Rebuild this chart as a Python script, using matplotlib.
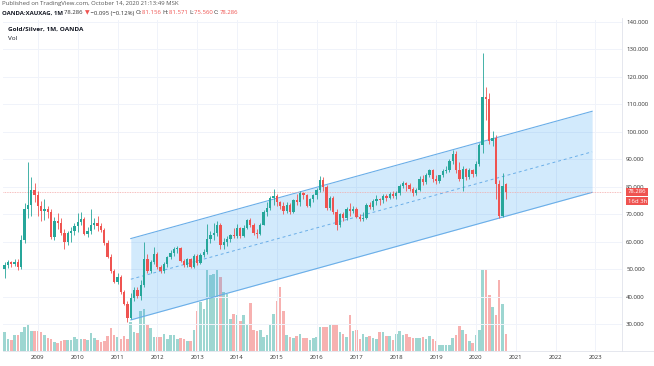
import matplotlib
matplotlib.use("Agg")
import matplotlib.pyplot as plt
import numpy as np

# ---------------- data (monthly Gold/Silver, OANDA, Mar 2008 .. Oct 2020) -------------
first_month = "2008-03"
years = [2009, 2010, 2011, 2012, 2013, 2014, 2015, 2016, 2017, 2018, 2019, 2020, 2021, 2022, 2023]

opens = [50.0, 51.6, 52.6, 52.0, 52.8, 51.0, 60.8, 72.0, 73.3, 78.7,
         77.0, 73.1, 71.3, 71.8, 70.8, 61.8, 67.6, 67.0, 63.2, 59.8, 63.3, 64.0,
         65.8, 67.2, 68.2, 62.9, 64.0, 66.0, 66.8, 65.6, 64.2, 59.5, 54.5, 49.3,
         45.5, 47.3, 41.7, 37.5, 32.2, 39.5, 42.6, 40.2, 44.3, 53.8, 49.5, 52.5,
         55.6, 50.7, 49.3, 51.8, 54.5, 56.0, 57.4, 57.8, 53.2, 51.6, 53.6, 50.9,
         54.8, 52.2, 55.4, 56.4, 61.2, 62.6, 63.4, 66.2, 58.8, 59.8, 61.0, 62.5,
         62.0, 65.1, 62.3, 65.2, 67.9, 66.3, 63.2, 62.9, 66.3, 70.7, 72.3, 75.8,
         76.5, 74.4, 73.1, 71.3, 73.5, 70.8, 75.1, 74.5, 77.6, 76.9, 73.2, 75.5,
         76.9, 78.7, 82.5, 79.9, 72.2, 75.9, 70.7, 66.2, 70.0, 68.5, 71.9, 71.1,
         72.0, 69.2, 68.3, 68.6, 73.3, 72.5, 74.8, 75.5, 75.1, 76.6, 76.1, 77.3,
         76.6, 77.6, 80.4, 81.3, 80.7, 79.1, 77.8, 78.9, 82.8, 81.6, 84.4, 86.1,
         82.7, 82.0, 84.2, 85.6, 86.2, 89.4, 92.1, 86.2, 83.0, 86.6, 83.6, 86.1,
         84.7, 88.3, 95.1, 112.6, 112.0, 96.6, 97.6, 81.0, 69.5, 81.156]
highs = [52.8, 53.4, 53.2, 53.8, 53.6, 62.5, 74.0, 89.2, 83.5, 81.5,
         78.5, 75.0, 75.5, 73.0, 72.0, 69.0, 70.5, 68.5, 64.5, 64.0, 65.5, 67.0,
         70.5, 70.8, 69.0, 65.5, 72.0, 68.5, 69.5, 67.0, 65.0, 60.5, 55.5, 50.0,
         48.5, 47.8, 42.5, 38.5, 41.5, 43.5, 43.5, 46.0, 59.8, 55.5, 53.5, 58.0,
         56.2, 51.5, 52.5, 55.0, 57.0, 58.0, 58.5, 58.2, 53.8, 54.2, 54.2, 55.5,
         55.5, 55.8, 57.5, 66.5, 64.0, 67.0, 67.5, 66.8, 61.5, 62.0, 63.0, 65.0,
         66.5, 65.5, 66.0, 68.2, 68.5, 67.0, 64.5, 67.0, 71.5, 74.5, 76.5, 79.3,
         77.5, 75.0, 74.5, 74.5, 74.0, 75.5, 77.5, 78.5, 78.3, 77.5, 76.0, 77.5,
         79.5, 83.8, 83.5, 80.5, 76.5, 76.5, 72.0, 70.5, 71.0, 72.5, 74.0, 73.0,
         72.5, 70.0, 71.0, 74.0, 74.5, 75.5, 77.0, 76.0, 77.5, 77.5, 78.0, 78.5,
         78.5, 81.0, 82.0, 81.8, 81.5, 79.8, 79.5, 84.0, 84.5, 85.0, 86.5, 86.5,
         84.5, 84.5, 86.5, 87.5, 90.0, 93.5, 93.0, 89.0, 87.5, 87.0, 86.8, 86.5,
         89.5, 96.0, 128.7, 116.5, 114.0, 100.5, 99.0, 82.5, 85.0, 81.571]
lows = [47.0, 50.6, 50.8, 51.2, 49.8, 50.2, 59.5, 68.5, 69.5, 74.5,
        69.5, 67.5, 68.0, 68.5, 61.0, 60.5, 64.5, 62.5, 57.5, 58.8, 60.0, 62.5,
        63.5, 66.0, 62.5, 61.8, 63.0, 64.5, 64.0, 63.5, 59.0, 54.0, 48.5, 45.0,
        44.5, 41.2, 37.0, 31.0, 31.8, 38.5, 39.5, 38.8, 43.5, 48.5, 48.8, 51.8,
        50.0, 48.5, 48.8, 51.0, 53.8, 55.0, 56.0, 52.8, 50.8, 51.0, 50.5, 50.5,
        51.5, 51.8, 54.5, 55.5, 59.5, 60.5, 62.0, 57.5, 57.5, 58.5, 60.0, 61.5,
        61.5, 61.5, 61.8, 64.5, 65.5, 62.5, 61.5, 62.5, 66.0, 69.5, 71.5, 73.5,
        73.0, 72.0, 70.0, 70.5, 70.2, 70.5, 73.5, 73.0, 75.5, 72.5, 72.5, 74.5,
        75.5, 78.0, 78.5, 71.5, 71.5, 70.0, 64.2, 65.5, 67.5, 67.8, 69.5, 70.5,
        68.5, 67.5, 67.5, 68.2, 72.0, 71.5, 73.5, 73.5, 74.0, 75.0, 75.5, 76.0,
        75.5, 77.0, 79.5, 78.5, 78.5, 76.5, 77.0, 78.5, 80.5, 81.0, 83.5, 81.8,
        81.0, 81.5, 83.5, 85.0, 85.5, 88.5, 85.0, 82.2, 78.5, 82.5, 83.0, 83.5,
        84.0, 87.5, 92.5, 104.5, 95.5, 95.0, 75.5, 68.8, 69.0, 75.560]
closes = [51.6, 52.6, 52.0, 52.8, 51.0, 60.8, 72.0, 73.3, 78.7, 77.0,
          73.1, 71.3, 71.8, 70.8, 61.8, 67.6, 67.0, 63.2, 59.8, 63.3, 64.0, 65.8,
          67.2, 68.2, 62.9, 64.0, 66.0, 66.8, 65.6, 64.2, 59.5, 54.5, 49.3, 45.5,
          47.3, 41.7, 37.5, 32.2, 39.5, 42.6, 40.2, 44.3, 53.8, 49.5, 52.5, 55.6,
          50.7, 49.3, 51.8, 54.5, 56.0, 57.4, 57.8, 53.2, 51.6, 53.6, 50.9, 54.8,
          52.2, 55.4, 56.4, 61.2, 62.6, 63.4, 66.2, 58.8, 59.8, 61.0, 62.5, 62.0,
          65.1, 62.3, 65.2, 67.9, 66.3, 63.2, 62.9, 66.3, 70.7, 72.3, 75.8, 76.5,
          74.4, 73.1, 71.3, 73.5, 70.8, 75.1, 74.5, 77.6, 76.9, 73.2, 75.5, 76.9,
          78.7, 82.5, 79.9, 72.2, 75.9, 70.7, 66.2, 70.0, 68.5, 71.9, 71.1, 72.0,
          69.2, 68.3, 68.6, 73.3, 72.5, 74.8, 75.5, 75.1, 76.6, 76.1, 77.3, 76.6,
          77.6, 80.4, 81.3, 80.7, 79.1, 77.8, 78.9, 82.8, 81.6, 84.4, 86.1, 82.7,
          82.0, 84.2, 85.6, 86.2, 89.4, 92.1, 86.2, 83.0, 86.6, 83.6, 86.1, 84.7,
          88.3, 95.1, 112.6, 112.0, 96.6, 97.6, 81.0, 69.5, 80.4, 78.286]
volumes = [19.0, 12.3, 10.7, 15.7, 16.3, 19.0, 24.0, 27.3, 19.7, 20.0,
           20.0, 19.0, 16.3, 13.0, 11.7, 9.0, 8.0, 10.0, 10.7, 10.7, 10.7, 14.0,
           12.3, 12.3, 11.7, 11.3, 18.0, 13.0, 11.3, 9.0, 10.0, 15.0, 23.3, 15.7,
           14.0, 11.7, 15.0, 12.3, 29.0, 19.0, 18.0, 39.7, 41.7, 27.3, 23.0, 14.0,
           14.0, 14.0, 17.3, 12.3, 15.7, 15.7, 11.7, 13.0, 11.7, 10.0, 10.0, 20.7,
           39.7, 49.0, 42.3, 80.7, 75.7, 77.3, 80.7, 74.0, 59.0, 57.3, 32.3, 37.3,
           35.7, 29.7, 35.7, 26.3, 48.3, 20.7, 20.0, 20.7, 14.0, 15.7, 25.7, 37.3,
           49.7, 64.0, 39.7, 15.7, 14.0, 13.0, 15.0, 17.3, 13.0, 13.0, 10.7, 13.0,
           14.0, 24.0, 24.0, 24.0, 25.7, 26.3, 26.3, 19.0, 16.7, 14.0, 35.7, 19.7,
           21.3, 12.3, 17.3, 14.0, 15.0, 13.0, 12.3, 19.0, 19.0, 15.0, 15.0, 10.7,
           17.3, 20.0, 15.7, 17.3, 14.0, 13.0, 13.0, 13.0, 14.0, 12.3, 15.0, 12.3,
           10.0, 5.7, 6.3, 6.3, 6.3, 13.0, 16.3, 25.0, 21.3, 17.3, 10.0, 8.0,
           15.7, 20.7, 81.7, 82.3, 55.7, 44.0, 36.0, 70.7, 47.3, 17.3]

# regression channel (start / end month index, upper / lower price)
channel_x = [38, 177]
channel_upper = [61.2, 107.5]
channel_lower = [31.6, 78.0]

price_ticks = [30, 40, 50, 60, 70, 80, 90, 100, 110, 120, 130, 140]
last_price = 78.286
countdown = "16d 3h"

header_line1 = "Published on TradingView.com, October 14, 2020 21:13:49 MSK"
GREEN = "#26a69a"
RED = "#ef5350"
header_segments = [("OANDA:XAUXAG, 1M ", "#131722", "bold"), ("78.286 ", "#333333", "normal"),
                   ("\u25BC", RED, "normal"), (" \u22120.095 (\u22120.12%) ", "#333333", "normal"),
                   ("O:", "#333333", "normal"), ("81.156 ", RED, "normal"),
                   ("H:", "#333333", "normal"), ("81.571 ", RED, "normal"),
                   ("L:", "#333333", "normal"), ("75.560 ", RED, "normal"),
                   ("C:", "#333333", "normal"), ("78.286", RED, "normal")]

# ---------------- figure ----------------
FONTS = ["Open Sans", "DejaVu Sans"]
fig = plt.figure(figsize=(6.54, 3.66), dpi=100)
W, H = 654, 366
L, R, T, B = 3, 622, 20, 351
rect = [L / W, (H - B) / H, (R - L) / W, (B - T) / H]
ax2 = fig.add_axes(rect)
ax = fig.add_axes(rect, sharex=ax2)
ax.patch.set_visible(False)
for a in (ax, ax2):
    for s in a.spines.values():
        s.set_visible(False)

idx = np.arange(len(closes))
o = np.array(opens); h = np.array(highs); lo = np.array(lows); c = np.array(closes)
up = c >= o
cols = np.where(up, GREEN, RED)

# volume (background)
ax2.bar(idx, volumes, width=0.78, color=cols, alpha=0.45, linewidth=0)
ax2.set_ylim(0, max(volumes) * 4.02)
ax2.set_yticks([])
ax2.tick_params(axis="x", length=0, labelbottom=False)

# grid
for yv in price_ticks:
    ax.axhline(yv, color="#f0f3fa", lw=0.7, zorder=0)
first_year = int(first_month[:4]); first_mon = int(first_month[5:])
year_pos = [(y - first_year) * 12 + (1 - first_mon) for y in years]
for xp in year_pos:
    ax.axvline(xp, color="#f0f3fa", lw=0.7, zorder=0)

# channel
mid = [(u + d) / 2 for u, d in zip(channel_upper, channel_lower)]
ax.fill_between(channel_x, channel_lower, channel_upper, color="#2196f3", alpha=0.2, lw=0, zorder=1)
ax.plot(channel_x, channel_upper, color="#6aaee8", lw=0.8, zorder=2)
ax.plot(channel_x, channel_lower, color="#6aaee8", lw=0.8, zorder=2)
ax.plot(channel_x, mid, color="#6aaee8", lw=0.7, ls=(0, (3, 3)), zorder=2)

# last price line
ax.axhline(last_price, color="#f4a9a8", lw=0.6, ls=(0, (1, 1)), zorder=2)

# candles
ax.vlines(idx, lo, h, colors=cols, lw=0.6, zorder=3)
ax.bar(idx, np.maximum(np.abs(c - o), 0.25), bottom=np.minimum(o, c), width=0.7,
       color=cols, linewidth=0, zorder=4)

ax.set_xlim(-0.5, 186.0)
ax.set_ylim(20.3, 140.7)

ax.yaxis.tick_right()
ax.set_yticks(price_ticks)
ax.set_yticklabels([f"{v:.3f}" for v in price_ticks])
ax.tick_params(axis="y", length=0, pad=3, labelsize=4.3, colors="#333333")
ax.set_xticks(year_pos)
ax.set_xticklabels([str(y) for y in years])
ax.tick_params(axis="x", length=0, pad=3, labelsize=4.3, colors="#333333")
for lab in ax.get_yticklabels() + ax.get_xticklabels():
    lab.set_fontfamily("Open Sans")

# separators
fig.add_artist(plt.Line2D([R / W, R / W], [(H - B) / H, (H - T + 2) / H], color="#e0e3eb", lw=0.6))
fig.add_artist(plt.Line2D([L / W, 1.0], [(H - B) / H, (H - B) / H], color="#e0e3eb", lw=0.6))

# price labels on axis
for dy, txt in [(0, f"{last_price:.3f}"), (-7, countdown)]:
    ax.annotate(txt, xy=(1.0, last_price), xycoords=("axes fraction", "data"),
                xytext=(4, dy), textcoords="offset points", va="center", ha="left",
                fontsize=4.3, color="white", fontfamily="Open Sans",
                bbox=dict(boxstyle="square,pad=0.25", fc=RED, ec="none"), zorder=10,
                annotation_clip=False)

# header
fig.text(2 / W, 1 - 4 / H, header_line1, fontsize=4.3, color="#555555",
         va="center", ha="left", fontfamily="Open Sans")
prev = fig.text(2 / W, 1 - 13 / H, header_segments[0][0], fontsize=4.3,
                color=header_segments[0][1], fontweight=header_segments[0][2],
                va="center", ha="left", fontfamily=FONTS)
for txt, col, fw in header_segments[1:]:
    prev = ax.annotate(txt, xy=(1, 0.5), xycoords=prev, va="center", ha="left",
                       fontsize=4.3, color=col, fontweight=fw, fontfamily=FONTS,
                       annotation_clip=False)

fig.text(8 / W, 1 - 29 / H, "Gold/Silver, 1M, OANDA", fontsize=4.6, fontweight="bold",
         color="#131722", va="center", ha="left", fontfamily="Open Sans")
fig.text(8 / W, 1 - 38 / H, "Vol", fontsize=4.6, color="#131722", va="center", ha="left",
         fontfamily="Open Sans")

fig.savefig("out.png", dpi=100, facecolor="white")
